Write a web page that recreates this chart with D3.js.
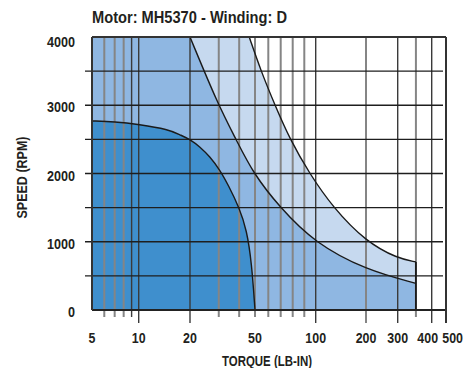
<!DOCTYPE html>
<html><head><meta charset="utf-8">
<script src="https://cdn.jsdelivr.net/npm/d3@7"></script>
<style>
html,body{margin:0;padding:0;background:#fff;}
svg{display:block;}
text{font-family:'Liberation Sans Narrow','Arial Narrow','Liberation Sans',Arial,sans-serif;font-weight:bold;fill:#231f20;}
</style></head>
<body>
<svg id="chart" width="467" height="368"></svg>
<script>
// ---- data ----
const chartTitle = "Motor: MH5370 - Winding: D";
const xTitle = "TORQUE (LB-IN)";
const yTitle = "SPEED (RPM)";
const torqueTicks = [5, 10, 20, 50, 100, 200, 300, 400, 500];
const torqueTickLabels = ["5", "10", "20", "50", "100", "200", "300", "400", "500"];
const torqueGrid = [5, 6, 7, 8, 9, 10, 20, 30, 40, 50, 60, 70, 80, 90, 100, 200, 300, 350, 400, 500];
const torqueLongTicks = [10, 20, 100, 200, 300, 400, 500];
const torqueDarkGrid = [9, 10, 20, 100, 300, 400];
const speedTicks = [0, 1000, 2000, 3000, 4000];
const speedTickLabels = ["0", "1000", "2000", "3000", "4000"];
const speedGrid = [500, 1000, 1500, 2000, 2500, 3000, 3500];

// inner (dark) curve
const c1Torque = [5, 7, 10, 15, 17.5, 20, 23, 26.5, 30.5, 34.3, 40, 44.5, 47.7, 50];
const c1Speed  = [2770, 2760, 2720, 2645, 2565, 2500, 2392, 2246, 2051, 1831, 1500, 1172, 690, 0];
// middle curve
const c2Torque = [20, 29.8, 38.3, 48.8, 69.4, 99, 200, 350];
const c2Speed  = [4000, 3000, 2500, 2000, 1500, 985, 586, 391];
// outer curve
const c3Torque = [46.1, 54.3, 65.2, 77.6, 94.4, 127, 200, 300, 350];
const c3Speed  = [4000, 3500, 3000, 2500, 2000, 1500, 1000, 755, 705];

const torqueMin = 5, torqueEnd = 350, speedMax = 4000;

// ---- layout ----
const svg = d3.select("#chart");
const L = 92, R = 446, T = 37, B = 310;
// hand-drawn log axis calibrated at its grid values
const x = d3.scaleLog()
  .domain([5, 10, 20, 50, 60, 70, 80, 90, 100, 200, 300, 400, 500])
  .range([L, 138.7, 190, 255, 268.3, 280.7, 292.7, 304.3, 315.7, 366, 397.7, 431.7, R]);
const y = d3.scaleLinear().domain([0, speedMax]).range([B, T]);

const colDark = "#3f8fcd", colMid = "#8fb7e2", colLight = "#c6d9ef";

const zip = (a, b) => a.map((v, i) => [v, b[i]]);
const lineSmooth = d3.line().x(d => x(d[0])).y(d => y(d[1])).curve(d3.curveBasis);

function regionPath(pts, closeRight) {
  let d = lineSmooth(pts);
  if (closeRight) d += `L${x(torqueEnd)},${y(0)}`;
  d += `L${x(torqueMin)},${y(0)}`;
  if (pts[0][0] !== torqueMin) d += `L${x(torqueMin)},${y(speedMax)}`;
  return d + "Z";
}

const p1 = zip(c1Torque, c1Speed), p2 = zip(c2Torque, c2Speed), p3 = zip(c3Torque, c3Speed);

svg.append("path").attr("d", regionPath(p3, true)).attr("fill", colLight);
svg.append("path").attr("d", regionPath(p2, true)).attr("fill", colMid);
svg.append("path").attr("d", regionPath(p1, false)).attr("fill", colDark);

// vertical grid + ticks below
svg.append("g").selectAll("line").data(torqueGrid.filter(v => v !== 5 && v !== 500)).join("line")
  .attr("x1", d => x(d)).attr("x2", d => x(d))
  .attr("y1", T).attr("y2", d => B + (torqueLongTicks.includes(d) ? 13 : 7))
  .attr("stroke", d => torqueDarkGrid.includes(d) ? "#3a3a3a" : "#858585")
  .attr("stroke-width", d => torqueDarkGrid.includes(d) ? 1.4 : 2);

// horizontal grid
svg.append("g").selectAll("line").data(speedGrid).join("line")
  .attr("x1", L - 7).attr("x2", R - 3)
  .attr("y1", d => y(d)).attr("y2", d => y(d))
  .attr("stroke", "#1e1e1e").attr("stroke-width", 1.4);

// curves
[p1, p2, p3].forEach(p => svg.append("path").attr("d", lineSmooth(p))
  .attr("fill", "none").attr("stroke", "#1a1a1a").attr("stroke-width", 1.4));

// region right edge
svg.append("line").attr("x1", x(torqueEnd)).attr("x2", x(torqueEnd))
  .attr("y1", y(c3Speed[c3Speed.length - 1])).attr("y2", y(0))
  .attr("stroke", "#1a1a1a").attr("stroke-width", 1.8);

// frame
svg.append("line").attr("x1", L).attr("x2", R).attr("y1", T).attr("y2", T).attr("stroke", "#333").attr("stroke-width", 2);
svg.append("line").attr("x1", L).attr("x2", R).attr("y1", B).attr("y2", B).attr("stroke", "#222").attr("stroke-width", 2);
svg.append("line").attr("x1", L).attr("x2", L).attr("y1", T).attr("y2", B).attr("stroke", "#333").attr("stroke-width", 2);
svg.append("line").attr("x1", R).attr("x2", R).attr("y1", T).attr("y2", B + 13).attr("stroke", "#333").attr("stroke-width", 2);

// x tick labels
const xShift = {400: -4};
svg.append("g").selectAll("text").data(torqueTicks).join("text")
  .attr("x", (d, i) => i === torqueTicks.length - 1 ? 463 : x(d) + (xShift[d] || 0))
  .attr("y", 343)
  .attr("text-anchor", (d, i) => i === torqueTicks.length - 1 ? "end" : "middle")
  .attr("font-size", 15.5)
  .attr("textLength", (d, i) => torqueTickLabels[i].length * 6.9)
  .attr("lengthAdjust", "spacingAndGlyphs")
  .text((d, i) => torqueTickLabels[i]);

// y tick labels
svg.append("g").selectAll("text").data(speedTicks).join("text")
  .attr("x", 75)
  .attr("y", d => Math.max(y(d), T + 3) + 7)
  .attr("text-anchor", "end")
  .attr("font-size", 15)
  .attr("textLength", (d, i) => speedTickLabels[i].length * 7)
  .attr("lengthAdjust", "spacingAndGlyphs")
  .text((d, i) => speedTickLabels[i]);

// titles
svg.append("text").attr("x", L).attr("y", 22.5).attr("font-size", 16)
  .attr("textLength", 195).attr("lengthAdjust", "spacingAndGlyphs").text(chartTitle);
svg.append("text").attr("x", 267).attr("y", 366).attr("text-anchor", "middle").attr("font-size", 15)
  .attr("textLength", 90).attr("lengthAdjust", "spacingAndGlyphs").text(xTitle);
svg.append("text").attr("transform", "translate(26.5,177.5) rotate(-90)").attr("text-anchor", "middle")
  .attr("font-size", 15).attr("textLength", 82).attr("lengthAdjust", "spacingAndGlyphs").text(yTitle);
</script>
</body></html>
